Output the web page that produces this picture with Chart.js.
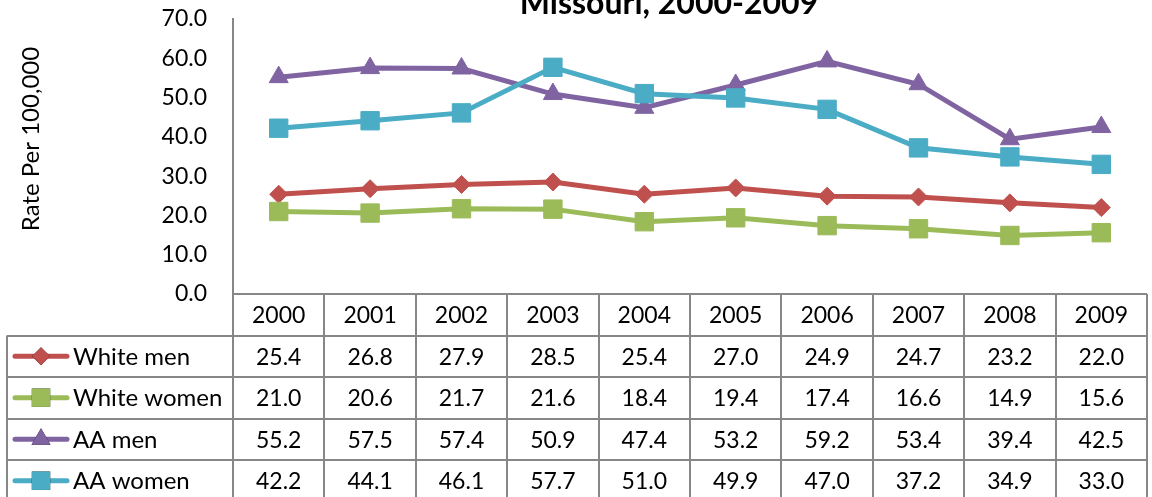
<!DOCTYPE html>
<html>
<head>
<meta charset="utf-8">
<script src="https://cdn.jsdelivr.net/npm/chart.js@4"></script>
<style>
  html, body { margin: 0; padding: 0; overflow: hidden; background: #fff; }
</style>
</head>
<body>
<canvas id="chartLine" width="1161" height="497"></canvas>
<script>
const years = ["2000", "2001", "2002", "2003", "2004", "2005", "2006", "2007", "2008", "2009"];
const whiteMen = [25.4, 26.8, 27.9, 28.5, 25.4, 27.0, 24.9, 24.7, 23.2, 22.0];
const whiteWomen = [21.0, 20.6, 21.7, 21.6, 18.4, 19.4, 17.4, 16.6, 14.9, 15.6];
const aaMen = [55.2, 57.5, 57.4, 50.9, 47.4, 53.2, 59.2, 53.4, 39.4, 42.5];
const aaWomen = [42.2, 44.1, 46.1, 57.7, 51.0, 49.9, 47.0, 37.2, 34.9, 33.0];
const yTicks = [0, 10, 20, 30, 40, 50, 60, 70];
const chartTitle = "Missouri, 2000-2009";
const yTitle = "Rate Per 100,000";

const FONT = "Lato, 'Open Sans', sans-serif";
const GRID = "#878787";
const ROW_H = 41.5;

function series(label, data, color, pointStyle, radius, order) {
    return {
        label,
        data,
        borderColor: color,
        backgroundColor: color,
        borderWidth: 5,
        pointStyle,
        pointRadius: radius,
        pointBorderWidth: 1,
        tension: 0,
        order,
    };
}

const datasets = [
    series("White men", whiteMen, "#C0504D", "rectRot", 9, 4),
    series("White women", whiteWomen, "#9BBB59", "rect", 13, 3),
    series("AA men", aaMen, "#8064A2", "triangle", 11, 2),
    series("AA women", aaWomen, "#4BACC6", "rect", 13, 1),
];

// data table + title + axis title, Excel style
const dataTable = {
    id: "dataTable",
    afterDraw(chart) {
        const ctx = chart.ctx;
        const area = chart.chartArea;
        const x = chart.scales.x;
        const top = area.bottom;
        const band = (area.right - area.left) / years.length;
        const legendLeft = 7;
        const rows = datasets.length;
        const bottom = top + ROW_H * (rows + 1);

        ctx.save();
        ctx.strokeStyle = GRID;
        ctx.lineWidth = 2;
        ctx.beginPath();
        // horizontal lines
        ctx.moveTo(area.left, top);
        ctx.lineTo(area.right, top);
        for (let r = 1; r <= rows + 1; r++) {
            const yy = Math.round(top + ROW_H * r);
            ctx.moveTo(legendLeft, yy);
            ctx.lineTo(area.right, yy);
        }
        // vertical lines
        for (let c = 0; c <= years.length; c++) {
            const xx = Math.round(area.left + band * c);
            ctx.moveTo(xx, top);
            ctx.lineTo(xx, bottom);
        }
        ctx.moveTo(legendLeft, top + ROW_H);
        ctx.lineTo(legendLeft, bottom);
        ctx.stroke();

        ctx.fillStyle = "#000";
        ctx.font = "23px " + FONT;
        ctx.textAlign = "center";
        ctx.textBaseline = "middle";
        years.forEach((yr, i) => {
            ctx.fillText(yr, x.getPixelForValue(i), top + ROW_H / 2 + 1);
        });
        datasets.forEach((ds, r) => {
            const cy = top + ROW_H * (r + 1) + ROW_H / 2 + 1;
            ctx.textAlign = "center";
            ctx.font = "23px " + FONT;
            ds.data.forEach((v, i) => {
                ctx.fillText(v.toFixed(1), x.getPixelForValue(i), cy);
            });
            // legend key
            ctx.strokeStyle = ds.borderColor;
            ctx.lineWidth = 5;
            ctx.lineCap = "round";
            ctx.beginPath();
            ctx.moveTo(15, cy - 1);
            ctx.lineTo(67, cy - 1);
            ctx.stroke();
            Chart.helpers.drawPoint(ctx, {
                pointStyle: ds.pointStyle,
                radius: ds.pointRadius,
                rotation: 0,
                borderWidth: 0,
            }, 41, cy - 1);
            ctx.fillStyle = ds.backgroundColor;
            ctx.fill();
            ctx.fillStyle = "#000";
            ctx.textAlign = "left";
            ctx.font = "24px " + FONT;
            ctx.fillText(ds.label, 73, cy);
        });

        // chart title (cut by the top edge)
        ctx.font = "bold 32px " + FONT;
        ctx.textAlign = "center";
        ctx.textBaseline = "alphabetic";
        ctx.fillText(chartTitle, 669, 14);

        // y axis title
        ctx.font = "24px " + FONT;
        ctx.translate(31, 139);
        ctx.rotate(-Math.PI / 2);
        ctx.textBaseline = "middle";
        ctx.fillText(yTitle, 0, 0);
        ctx.restore();
    },
};

const config = {
    type: "line",
    data: { labels: years, datasets },
    options: {
        responsive: false,
        animation: false,
        layout: { padding: { top: 19, bottom: 203, left: 0, right: 0 } },
        plugins: {
            legend: { display: false },
            title: { display: false },
            tooltip: { enabled: false },
        },
        scales: {
            x: {
                type: "category",
                offset: true,
                display: false,
            },
            y: {
                min: 0,
                max: 70,
                afterFit(scale) {
                    scale.width = 233;
                    scale.paddingTop = 0;
                    scale.paddingBottom = 0;
                },
                afterBuildTicks(scale) {
                    scale.ticks = yTicks.map((v) => ({ value: v }));
                },
                grid: { display: false, drawTicks: false },
                border: { display: true, color: GRID, width: 2 },
                ticks: {
                    padding: 26,
                    color: "#000",
                    font: { family: FONT, size: 23 },
                    callback: (v) => Number(v).toFixed(1),
                },
            },
        },
    },
    plugins: [dataTable],
};

new Chart(document.getElementById("chartLine"), config);
</script>
</body>
</html>
